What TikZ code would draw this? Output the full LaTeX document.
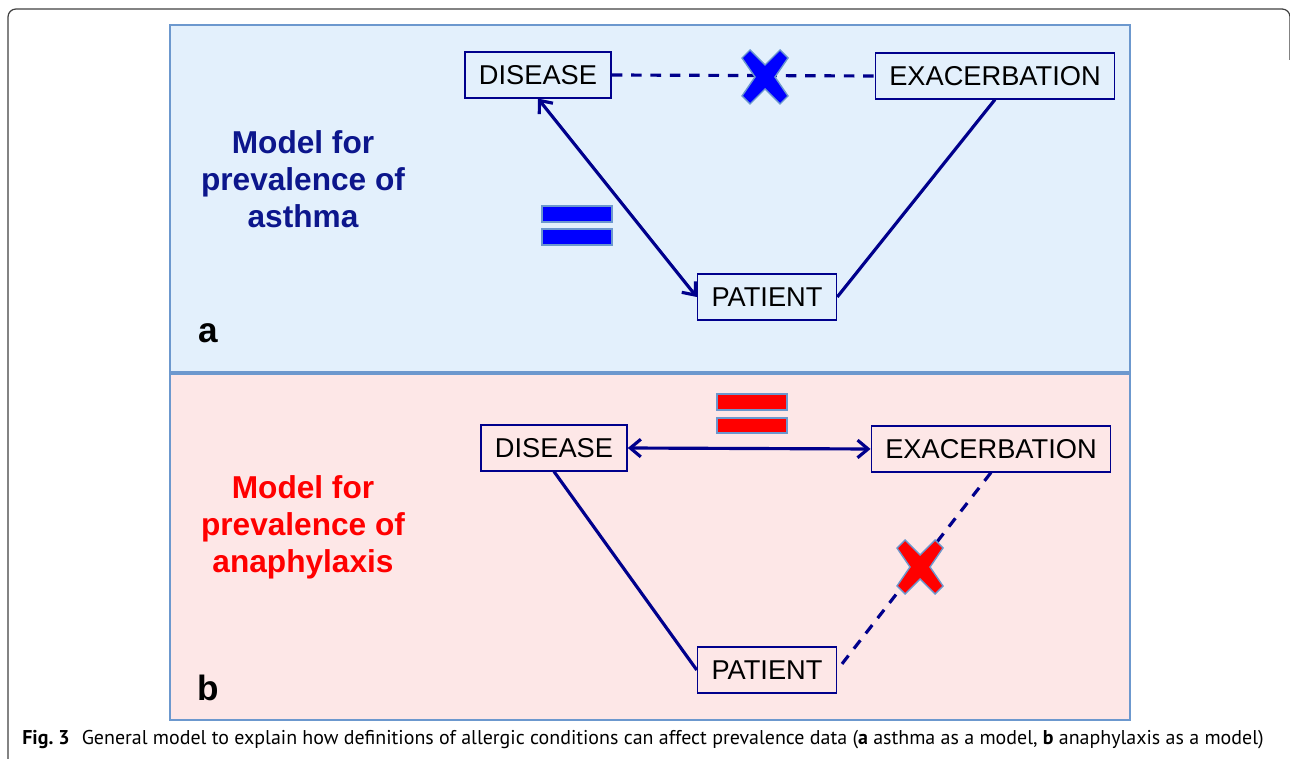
\documentclass[tikz,border=0pt]{standalone}
\usepackage{fontspec}
\setmainfont{Liberation Sans}
\newfontfamily\capfont{PT Sans}
\usetikzlibrary{arrows.meta}
\definecolor{navyline}{RGB}{0,0,140}
\definecolor{paneledge}{RGB}{108,152,206}
\definecolor{panelblue}{RGB}{227,240,252}
\definecolor{panelpink}{RGB}{253,231,231}
\definecolor{titleblue}{RGB}{12,22,140}
\definecolor{markblue}{RGB}{0,0,255}
\definecolor{markred}{RGB}{255,0,0}

\begin{document}
\begin{tikzpicture}[>={Straight Barb[length=6pt,width=10pt]}, x=0.2mm, y=-0.2mm,
	box/.style={draw=navyline, line width=0.8pt, inner xsep=8pt, minimum height=26pt, font=\fontsize{15.5}{18}\selectfont},
	link/.style={navyline, line width=1.8pt},
	linkdash/.style={link, dash pattern=on 6pt off 5pt},
	panel/.style={draw=paneledge, line width=1pt},
	sign/.style={draw=paneledge, line width=0.8pt},
	title/.style={font=\fontsize{18}{21}\selectfont\bfseries, align=center},
	tag/.style={font=\fontsize{20}{24}\selectfont\bfseries}]
	\useasboundingbox (0,0) rectangle (1290,759);
	%%%	Help Lines
%	\draw [thin, help lines] (0,0) grid[step=100] (1290,759);
	%%%	Frame
	\draw[black!75, line width=0.7pt, rounded corners=4.5pt] (8,759) -- (8,9) -- (1290,9) -- (1290,60);
	\fill[panelblue] (170,25) rectangle (1130,372);
	\draw[panel] (170,25) rectangle (1130,372);
	\fill[panelpink] (170,374) rectangle (1130,720);
	\draw[panel] (170,374) rectangle (1130,720);
	
	% Asthma
	\node[title, text=titleblue] (T1) at (303,179) {Model for\\prevalence of\\asthma};
	\node[tag] (a) at (208,333) {a};
	\node[box] (D1) at (538,75) {DISEASE};
	\node[box] (E1) at (995,76) {EXACERBATION};
	\node[box] (P1) at (767,297) {PATIENT};
	
	\draw[linkdash] (D1.east) -- (E1.west);
	\draw[link, <->] (D1.south) -- (P1.west);
	\draw[link] (E1.south) -- (P1.east);
	
	\draw[sign, fill=markblue] (542,206) rectangle (612,222);
	\draw[sign, fill=markblue] (542,229) rectangle (612,245);
	\draw[sign, fill=markblue, shift={(765,77)}] (-23,-19) -- (-15,-27) -- (0,-12) -- (15,-27) -- (23,-19) -- (10,0) -- (23,19) -- (15,27) -- (0,12) -- (-15,27) -- (-23,19) -- (-10,0) -- cycle;
	
	% Anaphylaxis
	\node[title, text=markred] (T2) at (303,527) {Model for\\prevalence of\\anaphylaxis};
	\node[tag] (b) at (208,688) {b};
	\node[box] (D2) at (554,448) {DISEASE};
	\node[box] (E2) at (991,449) {EXACERBATION};
	\node[box] (P2) at (767,670) {PATIENT};
	
	\draw[link, <->] (D2.east) -- (E2.west);
	\draw[link] (D2.south) -- (P2.west);
	\draw[linkdash] (E2.south) -- (P2.east);
	
	\draw[sign, fill=markred] (717,394) rectangle (787,410);
	\draw[sign, fill=markred] (717,418) rectangle (787,433);
	\draw[sign, fill=markred, shift={(920,567)}] (-23,-19) -- (-15,-27) -- (0,-12) -- (15,-27) -- (23,-19) -- (10,0) -- (23,19) -- (15,27) -- (0,12) -- (-15,27) -- (-23,19) -- (-10,0) -- cycle;
	
	% Caption
	\node[anchor=west, inner sep=0pt, font=\capfont\fontsize{11.35}{13}\selectfont] (cap) at (22,740) {\textbf{Fig.~3}\hspace{0.6em}General model to explain how definitions of allergic conditions can affect prevalence data (\textbf{a} asthma as a model, \textbf{b} anaphylaxis as a model)};
\end{tikzpicture}
\end{document}
